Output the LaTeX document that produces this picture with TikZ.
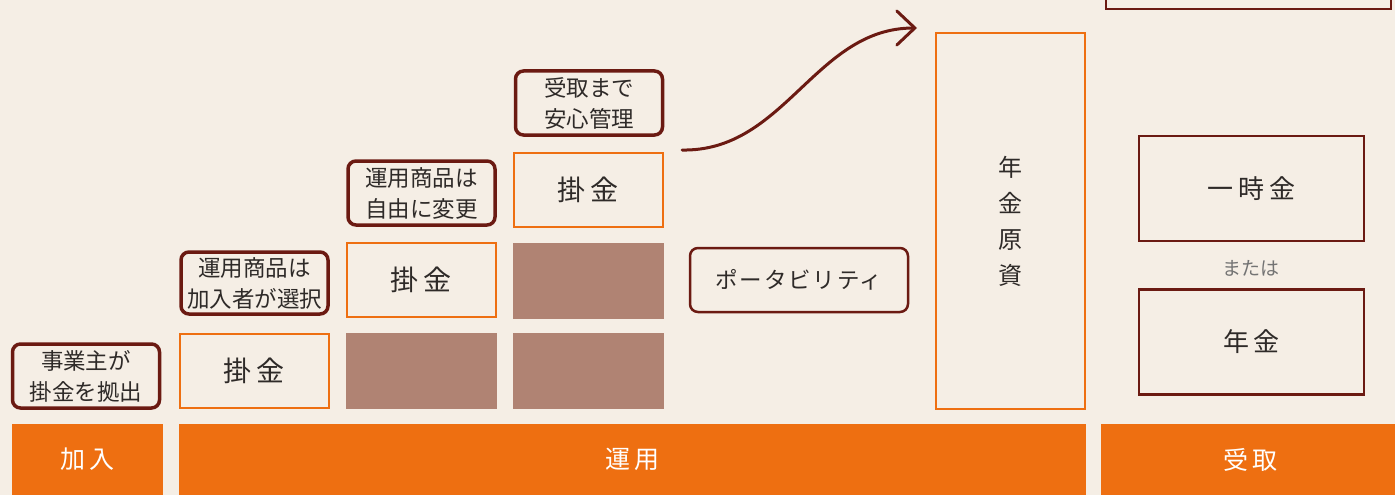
\documentclass[tikz,border=0pt]{standalone}
\usepackage{fontspec}
\setmainfont{Noto Sans CJK JP}
\newfontfamily\jpwide{Noto Sans CJK JP}[LetterSpace=18]
\newfontfamily\jpkana{Noto Sans CJK JP}[LetterSpace=8]
\usepackage{tikz}
\usetikzlibrary{arrows.meta}

\definecolor{paper}{HTML}{F5EEE5}
\definecolor{kakeorange}{HTML}{EE6F11}
\definecolor{darkbrown}{HTML}{6B1A12}
\definecolor{mudbrown}{HTML}{B08373}
\definecolor{inktext}{HTML}{2E2A28}

\begin{document}
\begin{tikzpicture}[x=1pt,y=-1pt,
    every node/.style={text=inktext, inner sep=0pt},
    stagebar/.style={fill=kakeorange, minimum height=71pt, text=white, font=\jpwide\fontsize{25}{25}\selectfont},
    kakebox/.style={draw=kakeorange, line width=1.8pt, fill=paper, minimum width=149pt, minimum height=74pt, font=\jpwide\fontsize{28}{28}\selectfont},
    filledbox/.style={fill=mudbrown, minimum width=151pt, minimum height=76pt},
    notebox/.style={draw=darkbrown, line width=3.5pt, rounded corners=8pt, minimum width=147pt, minimum height=64pt, align=center, font=\fontsize{22.5}{31}\selectfont},
    outbox/.style={draw=darkbrown, line width=2.5pt, minimum width=225pt, minimum height=105pt, font=\jpwide\fontsize{26}{26}\selectfont}]
  \useasboundingbox[fill=paper] (0,0) rectangle (1395,495);

  % stages along the bottom
  \node[stagebar, minimum width=151pt] (kanyu) at (87.5,459.5) {加入};
  \node[stagebar, minimum width=907pt] (unyo) at (632.5,459.5) {運用};
  \node[stagebar, minimum width=299pt] (uketori) at (1250.5,459.5) {受取};

  % contributions stacking up
  \node[kakebox] (kake1) at (254.5,371) {掛金};
  \node[filledbox] (fill1) at (421.5,371) {};
  \node[filledbox] (fill2) at (588.5,371) {};
  \node[kakebox] (kake2) at (421.5,280) {掛金};
  \node[filledbox] (fill3) at (588.5,280.5) {};
  \node[kakebox] (kake3) at (588.5,190) {掛金};

  % notes
  \node[notebox] (jigyo) at (86,376) {事業主が\\掛金を拠出};
  \node[notebox, minimum height=62pt] (sentaku) at (254.5,283) {運用商品は\\加入者が選択};
  \node[notebox] (henko) at (421.5,193) {運用商品は\\自由に変更};
  \node[notebox] (kanri) at (589,103) {受取まで\\安心管理};
  \node[notebox, line width=2.5pt, minimum width=218pt, minimum height=64pt, font=\jpkana\fontsize{22.5}{22.5}\selectfont] (porta) at (799,280) {ポータビリティ};

  % pension assets
  \node[draw=kakeorange, line width=1.8pt, minimum width=149pt, minimum height=376pt, align=center,
        font=\fontsize{24}{36}\selectfont] (genshi) at (1010.5,221) {年\\金\\原\\資};

  % payout
  \node[outbox, minimum width=285pt, minimum height=58pt] (topbox) at (1248.5,-20) {};
  \node[outbox] (ichiji) at (1251.5,188.5) {一時金};
  \node[text=black!55, font=\fontsize{19}{19}\selectfont] (mataha) at (1251,268) {または};
  \node[outbox] (nenkin) at (1251.5,342) {年金};

  \coordinate (arrstart) at (682,150);
  \coordinate (arrend) at (917,28);
  \draw[darkbrown, line width=3pt, line cap=round, -{Straight Barb[length=18pt,width=34pt,line cap=round]}]
    (arrstart) .. controls (785,152) and (815,28) .. (arrend);
\end{tikzpicture}
\end{document}
